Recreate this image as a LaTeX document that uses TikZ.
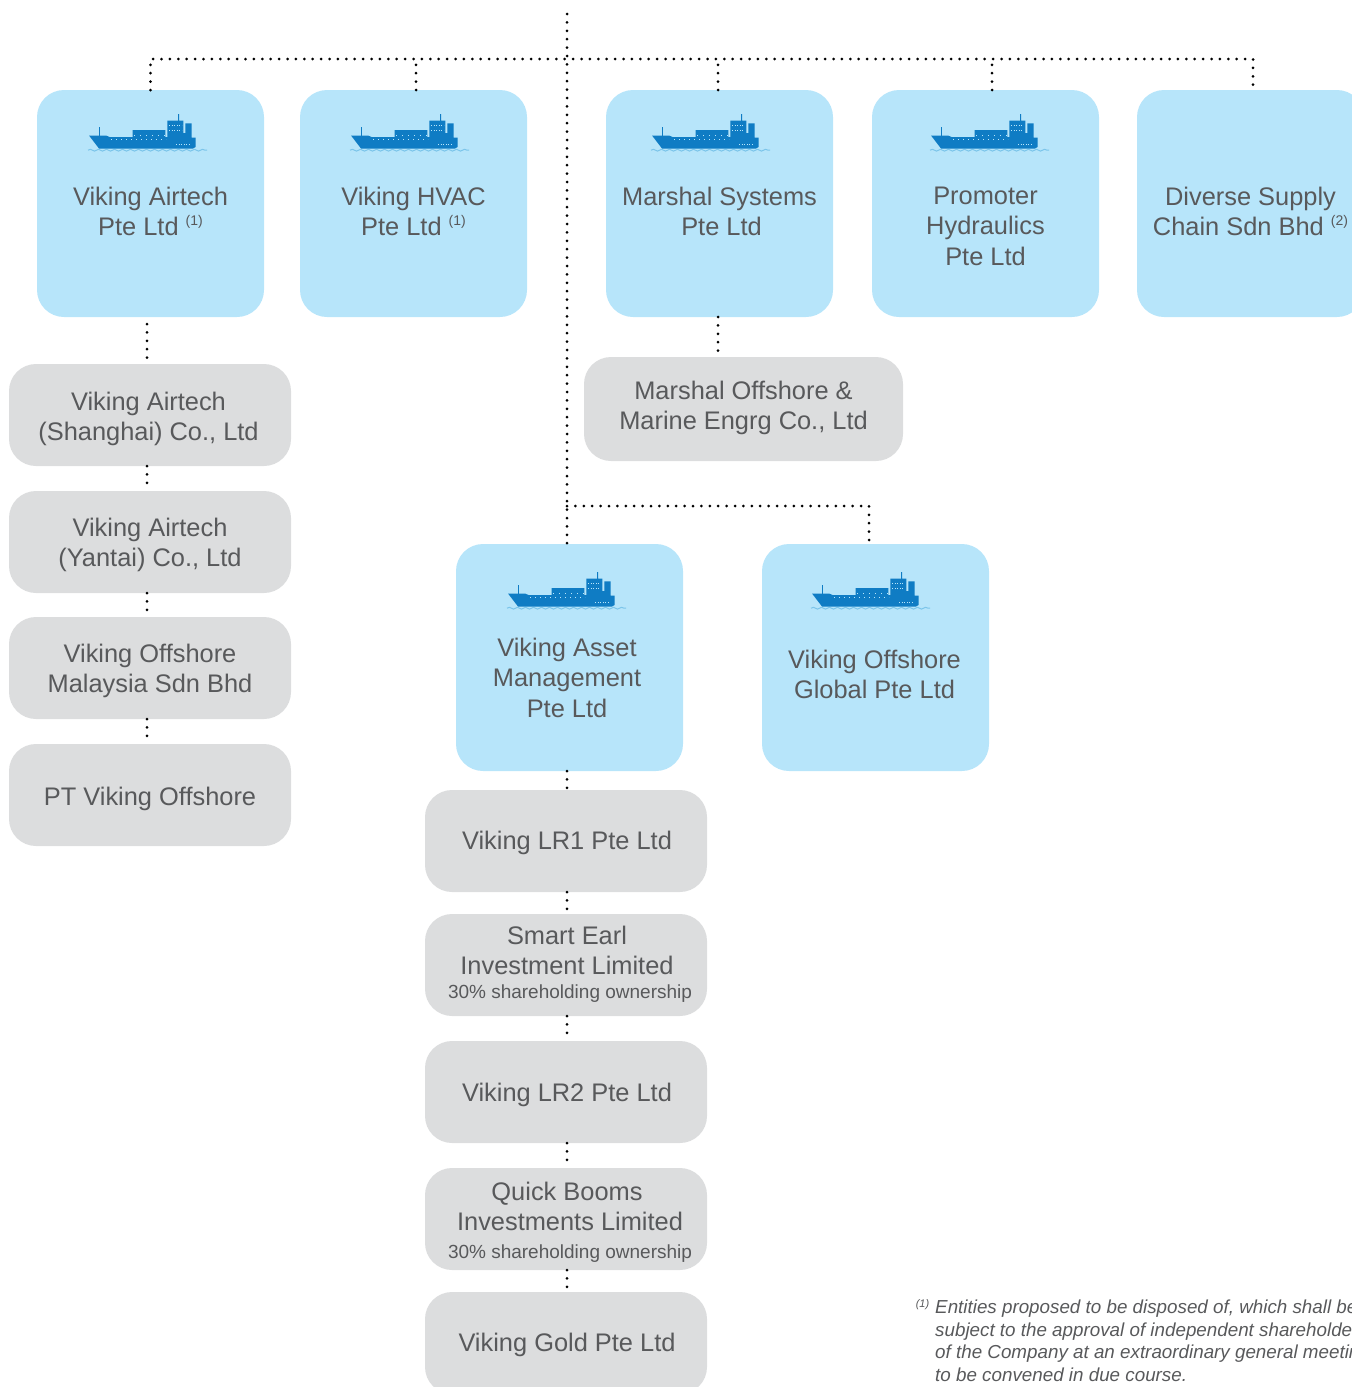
\documentclass[tikz,border=0pt]{standalone}
\usepackage{fontspec}
\setmainfont{Liberation Sans}
\usetikzlibrary{positioning, decorations.pathmorphing}
\definecolor{skyfill}{HTML}{B7E5FA}
\definecolor{greyfill}{HTML}{DCDDDE}
\definecolor{labelgrey}{HTML}{58595B}
\definecolor{shipblue}{HTML}{0F7CC4}
\definecolor{wavelight}{HTML}{7CC5EA}
\newcommand{\notemark}[1]{\raisebox{10pt}{\fontsize{14}{14}\selectfont(#1)}}
\newcommand{\ownernote}{\hspace*{6pt}\fontsize{19}{25}\selectfont 30\% shareholding ownership}
\newcommand{\shiptext}[2]{\parbox[c][227pt][t]{225pt}{\centering\vspace{#1}#2}}
\newcommand{\greytext}[3][0pt]{\hspace*{#1}\parbox[c][102pt][t]{280pt}{\centering\vspace{#2}#3}}
\tikzset{
	skybox/.style={fill=skyfill, rounded corners=27pt, inner sep=0pt, outer sep=0pt, minimum width=227pt, minimum height=227pt},
	greybox/.style={fill=greyfill, rounded corners=27pt, inner sep=0pt, outer sep=0pt, minimum width=282pt, minimum height=102pt},
	dotline/.style={line width=3pt, line cap=round, dash pattern=on 0pt off 8.4pt},
	shipicon/.pic={
		\draw[wavelight, line width=1pt, decorate, decoration={snake, amplitude=0.9pt, segment length=8pt}] (0,36.2) -- (119,36.2);
		\fill[shipblue] (1,21.5) -- (18,21.5) -- (22,23.2) -- (44.7,23.2) -- (44.7,16) -- (77.3,16) -- (77.3,23.2) -- (79.3,23.2) -- (79.3,6.5) -- (90.2,6.5) -- (90.2,0) -- (91.2,0) -- (91.2,6.5) -- (95.3,6.5) -- (95.3,19) -- (97.3,19) -- (97.3,9.3) -- (103.7,9.3) -- (103.7,23.7) -- (107.5,23.7) -- (107.5,33) -- (105,34.5) -- (11,34.5) -- cycle;
		\fill[shipblue] (11,13) rectangle (11.8,22);
		\draw[skyfill, line width=0.7pt, dash pattern=on 1pt off 1.6pt] (81,11) -- (94,11) (81,16.5) -- (94,16.5);
		\draw[skyfill, line width=0.6pt, dash pattern=on 1pt off 4pt] (23,24.8) -- (78,24.8);
		\draw[skyfill, line width=0.6pt, dash pattern=on 1pt off 5pt] (46,21.5) -- (77,21.5);
		\draw[skyfill, line width=0.6pt, dash pattern=on 1pt off 1.6pt] (88,30) -- (102,30);
	}
}

\begin{document}
\begin{tikzpicture}[x=1pt, y=-1pt, text=labelgrey, font=\fontsize{25.4}{30.3}\selectfont]
	\useasboundingbox (0,0) rectangle (1352,1387);
	\coordinate (root) at (567,14);
	\coordinate (bus) at (567,59);
	\coordinate (branch) at (567,506);

	\node[skybox] (airtech) at (150.5,203.5) {\shiptext{97pt}{Viking Airtech\\Pte Ltd \notemark{1}}};
	\node[skybox, right=36pt of airtech] (hvac) {\shiptext{97pt}{Viking HVAC\\Pte Ltd \notemark{1}}};
	\node[skybox, right=79pt of hvac] (marshal) {\shiptext{97pt}{Marshal Systems\\\hspace*{4pt}Pte Ltd}};
	\node[skybox, right=39pt of marshal] (promoter) {\shiptext{97pt}{Promoter\\Hydraulics\\Pte Ltd}};
	\node[skybox, right=38pt of promoter] (diverse) {\shiptext{97pt}{Diverse Supply\\Chain Sdn Bhd \notemark{2}}};

	\node[greybox, below=47pt of airtech, xshift=-0.5pt] (shanghai) {\greytext{28pt}{\hspace*{-3pt}Viking Airtech\\\hspace*{-3pt}(Shanghai) Co., Ltd}};
	\node[greybox, below=25pt of shanghai] (yantai) {\greytext{27pt}{Viking Airtech\\(Yantai) Co., Ltd}};
	\node[greybox, below=24pt of yantai] (malaysia) {\greytext{27pt}{Viking Offshore\\Malaysia Sdn Bhd}};
	\node[greybox, below=25pt of malaysia] (ptviking) {\greytext{43pt}{PT Viking Offshore}};
	\node[greybox, minimum width=319pt, minimum height=104pt, below=40pt of marshal, xshift=24pt] (marine) {\greytext{23pt}{Marshal Offshore \&\\Marine Engrg Co., Ltd}};

	\node[skybox] (asset) at (569.5,657.5) {\shiptext{94pt}{\hspace*{-5pt}Viking Asset\\\hspace*{-5pt}Management\\\hspace*{-5pt}Pte Ltd}};
	\node[skybox, right=79pt of asset] (global) {\shiptext{106pt}{\hspace*{-2pt}Viking Offshore\\\hspace*{-2pt}Global Pte Ltd}};

	\node[greybox, below=19pt of asset, xshift=-3.5pt] (lrone) {\greytext[2pt]{41pt}{Viking LR1 Pte Ltd}};
	\node[greybox, below=22pt of lrone] (earl) {\greytext[2pt]{12pt}{Smart Earl\\Investment Limited\\[-7pt]{\ownernote}}};
	\node[greybox, below=25pt of earl] (lrtwo) {\greytext[2pt]{42pt}{Viking LR2 Pte Ltd}};
	\node[greybox, below=25pt of lrtwo] (booms) {\greytext[2pt]{14pt}{Quick Booms\\\hspace*{6pt}Investments Limited\\[-3pt]{\ownernote}}};
	\node[greybox, below=22pt of booms] (gold) {\greytext[2pt]{41pt}{Viking Gold Pte Ltd}};

	\pic at ([xshift=51pt,yshift=-24pt]airtech.north west) {shipicon};
	\pic at ([xshift=50pt,yshift=-24pt]hvac.north west) {shipicon};
	\pic at ([xshift=45pt,yshift=-24pt]marshal.north west) {shipicon};
	\pic at ([xshift=58pt,yshift=-24pt]promoter.north west) {shipicon};
	\pic at ([xshift=51pt,yshift=-28pt]asset.north west) {shipicon};
	\pic at ([xshift=49pt,yshift=-28pt]global.north west) {shipicon};

	\node[anchor=north west, inner sep=0pt, align=left, font=\fontsize{18.8}{22.5}\selectfont\itshape] (remark) at (935,1299.5) {\llap{\raisebox{6pt}{\fontsize{11}{11}\selectfont(1)}\hspace{6pt}}Entities proposed to be disposed of, which shall be\\subject to the approval of independent shareholders\\of the Company at an extraordinary general meeting\\to be convened in due course.};

	\draw[dotline] (root) -- ([xshift=-2.5pt]asset.north);
	\draw[dotline] (airtech.north) |- (bus) -| ([xshift=2.5pt]diverse.north);
	\draw[dotline] ([xshift=2.5pt]hvac.north) -- ([xshift=2.5pt]hvac.north |- bus);
	\draw[dotline] ([xshift=-1.5pt]marshal.north) -- ([xshift=-1.5pt]marshal.north |- bus);
	\draw[dotline] ([xshift=6.5pt]promoter.north) -- ([xshift=6.5pt]promoter.north |- bus);
	\draw[dotline] (branch) -| ([xshift=-6.5pt]global.north);

	\draw[dotline] ([xshift=-3.5pt,yshift=-7pt]airtech.south) -- ([xshift=-3pt]shanghai.north);
	\draw[dotline] ([xshift=-3pt]shanghai.south) -- ([xshift=-3pt]yantai.north);
	\draw[dotline] ([xshift=-3pt]yantai.south) -- ([xshift=-3pt]malaysia.north);
	\draw[dotline] ([xshift=-3pt]malaysia.south) -- ([xshift=-3pt]ptviking.north);
	\draw[dotline] ([xshift=-1.5pt]marshal.south) -- ([xshift=-1.5pt]marshal.south |- marine.north);

	\draw[dotline] ([xshift=-2.5pt]asset.south) -- ([xshift=1pt]lrone.north);
	\draw[dotline] ([xshift=1pt]lrone.south) -- ([xshift=1pt]earl.north);
	\draw[dotline] ([xshift=1pt]earl.south) -- ([xshift=1pt]lrtwo.north);
	\draw[dotline] ([xshift=1pt]lrtwo.south) -- ([xshift=1pt]booms.north);
	\draw[dotline] ([xshift=1pt]booms.south) -- ([xshift=1pt]gold.north);
\end{tikzpicture}
\end{document}
